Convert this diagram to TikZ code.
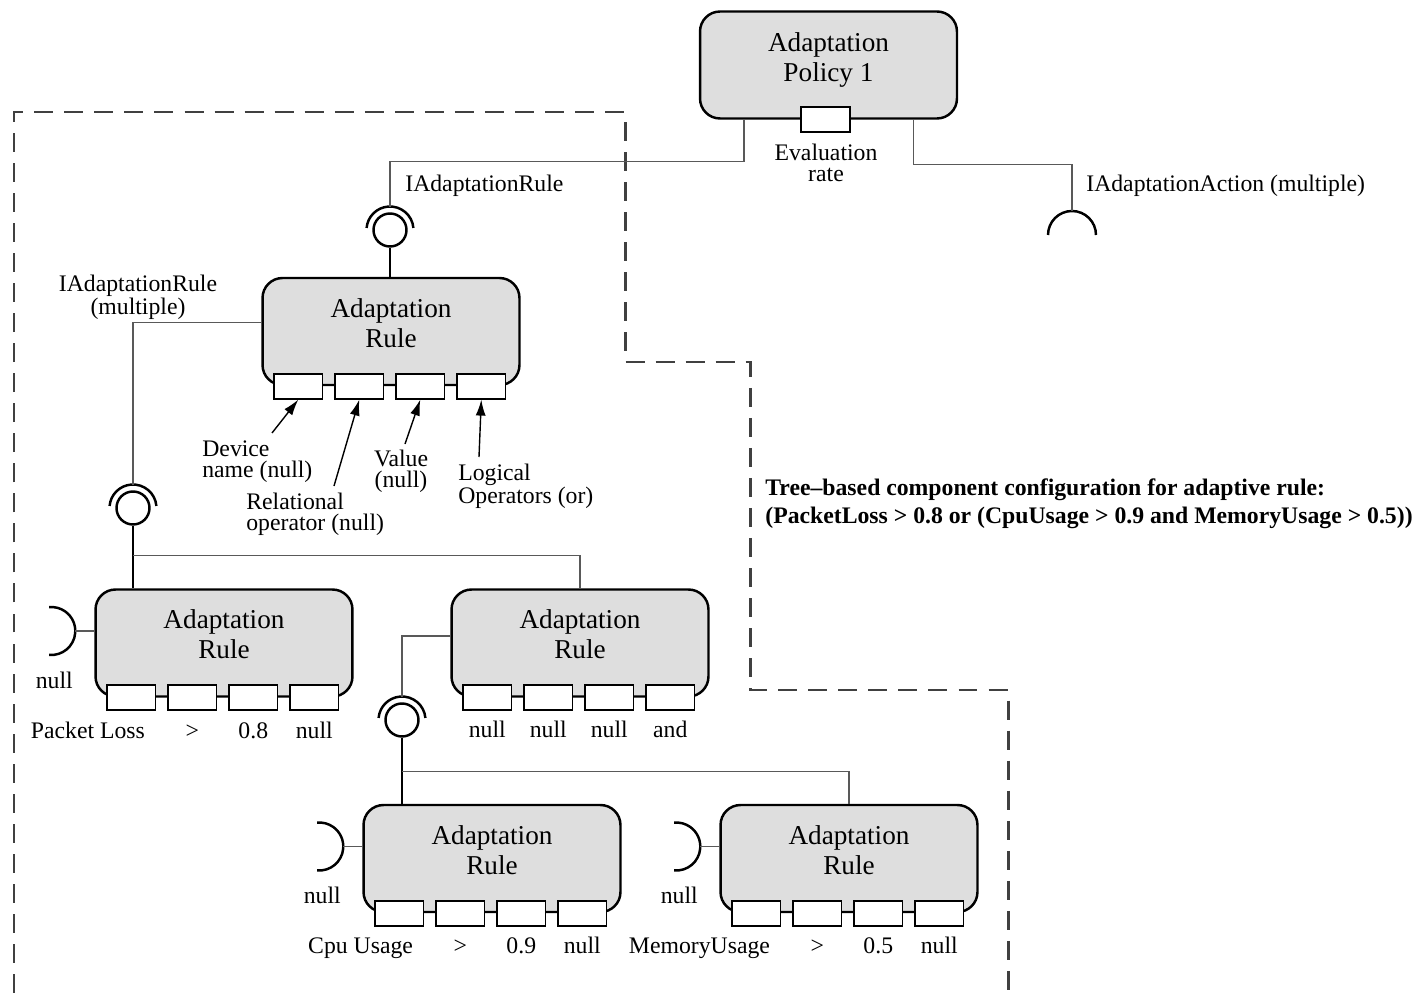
\documentclass[tikz,border=0pt]{standalone}
\usepackage{fontspec}
\setmainfont{Liberation Serif}
\usetikzlibrary{positioning,calc,arrows.meta}

\tikzset{
  compbox/.style={draw, line width=1.4pt, fill=black!13, rounded corners=0.4cm,
    minimum width=5.14cm, minimum height=2.14cm, inner sep=0pt},
  boxtext/.style={align=center, font=\fontsize{15.5}{17}\selectfont, inner sep=0pt},
  slot/.style={draw, line width=1pt, fill=white, minimum width=0.97cm,
    minimum height=0.5cm, inner sep=0pt},
  lbl/.style={font=\fontsize{13.5}{12}\selectfont, inner sep=0pt},
  ball/.style={circle, draw, line width=1.4pt, fill=white, minimum size=0.66cm, inner sep=0pt},
  sock/.style={line width=1.4pt},
  wire/.style={draw=black!65, line width=0.8pt},
  stub/.style={draw=black, line width=1.1pt},
  ptr/.style={line width=0.8pt, -{Latex[length=0.32cm, width=0.2cm]}},
  border/.style={draw=black!75, line width=1.7pt, dash pattern=on 10.8pt off 6.3pt}
}

\begin{document}
\begin{tikzpicture}[x=0.02cm, y=-0.02cm]
	\useasboundingbox (0,0) rectangle (1420,993);

	% dashed outline of the rule tree
	\draw[border] (14,993) -- (14,112) -- (625,112) -- (625,362) -- (750,362)
		-- (750,690) -- (1008,690) -- (1008,993);

	% components
	\node[compbox] (pol) at (828.5,65) {};
	\node[compbox] (r1) at (391,331.5) {};
	\node[compbox] (r2) at (224,643) {};
	\node[compbox] (r3) at (580,643) {};
	\node[compbox] (r4) at (492,858.5) {};
	\node[compbox] (r5) at (849,858.5) {};

	\node[boxtext] (pol-t) at ($(pol.north)+(0,50)$) {Adaptation\\Policy 1};
	\foreach \b in {r1,r2,r3,r4,r5}
		\node[boxtext] (\b-t) at ($(\b.north)+(0,46)$) {Adaptation\\Rule};

	% parameter slots
	\node[slot] (pol-s) at ($(pol.south)+(-3,0)$) {};
	\foreach \b in {r1,r2,r3,r4,r5}
		\foreach \k in {1,...,4}
			\node[slot] (\b-\k) at ($(\b.south west)+({37+61*(\k-1)},0)$) {};

	\node[lbl, align=center] (eval) at (826,163) {Evaluation\\rate};

	% ball and socket interfaces
	\node[ball] (b1) at (390,230) {};
	\node[ball] (b2) at (133,508) {};
	\node[ball] (b3) at (402,720) {};
	\foreach \i in {b1,b2,b3} {
		\draw[sock] ([shift={(5:0.47cm)}]\i.center) arc[start angle=5, end angle=175, radius=0.47cm];
		\coordinate (\i-top) at ([yshift=0.47cm]\i.center);
	}
	\coordinate (act) at (1072,235);
	\draw[sock] ([shift={(0:0.48cm)}]act) arc[start angle=0, end angle=180, radius=0.48cm];
	\coordinate (act-top) at ([yshift=0.48cm]act);

	\foreach \b in {r2,r4,r5} {
		\coordinate (\b-s) at ($(\b.west)+(-43,-12)$);
		\draw[sock] ([shift={(-95:0.48cm)}]\b-s) arc[start angle=-95, end angle=95, radius=0.48cm];
		\draw[wire] ([xshift=0.48cm]\b-s) -- (\b-s -| \b.west);
		\node[lbl] (\b-n) at ($(\b-s)+(3,49)$) {null};
	}

	% connectors
	\draw[wire] ($(pol.south west)+(45,0)$) -- ++(0,42) -| (b1-top);
	\draw[wire] ($(pol.south east)+(-45,0)$) -- ++(0,45) -| (act-top);
	\draw[stub] (b1.south) -- (b1.south |- r1.north);
	\draw[wire] ($(r1.west)+(0,-9)$) -| (b2-top);
	\coordinate (j1) at ($(b2.south)+(0,30)$);
	\draw[stub] (b2.south) -- (j1) -- (j1 |- r2.north);
	\draw[wire] (j1) -| (r3.north);
	\draw[wire] ($(r3.west)+(0,-7)$) -| (b3-top);
	\coordinate (j2) at ($(b3.south)+(0,34)$);
	\draw[stub] (b3.south) -- (j2) -- (j2 |- r4.north);
	\draw[wire] (j2) -| (r5.north);

	% interface labels
	\node[lbl, anchor=west] (ir) at (405,186) {IAdaptationRule};
	\node[lbl, anchor=west] (ia) at (1086,186) {IAdaptationAction (multiple)};
	\node[lbl, align=center] (irm) at (138,297) {IAdaptationRule\\(multiple)};

	% slot meaning of the top rule
	\node[lbl, anchor=west, align=left] (dev) at (202,462) {Device\\name (null)};
	\node[lbl, anchor=west, align=left] (rel) at (246,514) {Relational\\operator (null)};
	\node[lbl, align=center] (val) at (401,471) {Value\\(null)};
	\node[lbl, anchor=west, align=left] (log) at (458,486) {Logical\\Operators (or)};
	\coordinate (dev-a) at (272,433);
	\coordinate (rel-a) at (334,486);
	\coordinate (val-a) at (405,444);
	\coordinate (log-a) at (479,457);
	\draw[ptr] (dev-a) -- (r1-1.south);
	\draw[ptr] (rel-a) -- (r1-2.south);
	\draw[ptr] (val-a) -- (r1-3.south);
	\draw[ptr] (log-a) -- (r1-4.south);

	% slot values
	\foreach \b/\n/\o/\v/\l in {r2/Packet Loss/>/0.8/null, r4/Cpu Usage/>/0.9/null, r5/MemoryUsage/>/0.5/null} {
		\node[lbl, anchor=base east] (\b-l1) at ($(\b-1.south)+(14,27)$) {\n};
		\node[lbl, anchor=base] (\b-l2) at ($(\b-2.south)+(0,27)$) {\o};
		\node[lbl, anchor=base] (\b-l3) at ($(\b-3.south)+(0,27)$) {\v};
		\node[lbl, anchor=base] (\b-l4) at ($(\b-4.south)+(0,27)$) {\l};
	}
	\foreach \k/\t in {1/null, 2/null, 3/null, 4/and}
		\node[lbl, anchor=base] (r3-l\k) at ($(r3-\k.south)+(0,26)$) {\t};

	% caption
	\node[lbl, font=\fontsize{13.5}{16}\selectfont\bfseries, anchor=west, align=left] (cfg) at (765,504)
		{Tree\textendash based component configuration for adaptive rule:\\(PacketLoss > 0.8 or (CpuUsage > 0.9 and MemoryUsage > 0.5))};

\end{tikzpicture}
\end{document}
